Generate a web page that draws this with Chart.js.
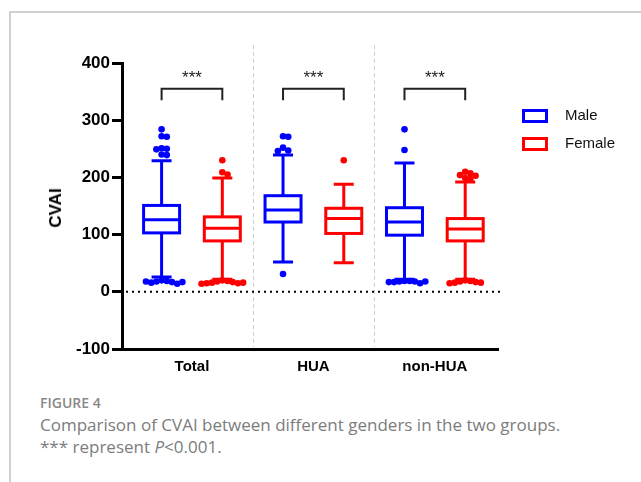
<!DOCTYPE html>
<html lang="en">
<head>
  <meta charset="UTF-8" />
  <title>CVAI by gender</title>
  <style>
    body { margin: 0; background: #fff; font-family: 'Liberation Sans', Arial, sans-serif; }
    .frame {
      position: absolute; left: 9px; top: 11px; width: 640px; height: 480px;
      border-left: 2px solid #d0d0d0; border-top: 2px solid #d0d0d0;
    }
    .chart-box { position: absolute; left: 0; top: 0; width: 641px; height: 390px; }
    .ytitle {
      position: absolute; left: 56px; top: 208px;
      transform: translate(-50%, -50%) rotate(-90deg);
      font-weight: 700; font-size: 17px; color: #000;
    }
    .legend { position: absolute; left: 522px; top: 106px; font-size: 15px; color: #111; }
    .legend div { position: relative; height: 28px; }
    .legend span.sw { position: absolute; left: 0; top: 3px; width: 20px; height: 8px; border: 3px solid; }
    .legend span.tx { position: absolute; left: 43px; top: 0px; line-height: 18px; }
    .caption { position: absolute; left: 40px; top: 394px; font-family: 'Open Sans', sans-serif; color: #7c7c7c; }
    .caption .fig { font-size: 14px; font-weight: 600; color: #888; line-height: 18px; }
    .caption .txt { font-size: 17px; line-height: 22px; margin-top: 2px; }
  </style>
</head>
<body>
  <div class="frame"></div>
  <div class="chart-box"><canvas id="cvaiChart"></canvas></div>
  <div class="ytitle">CVAI</div>
  <div class="legend">
    <div><span class="sw" style="border-color:#0000ff"></span><span class="tx">Male</span></div>
    <div><span class="sw" style="border-color:#ff0000"></span><span class="tx">Female</span></div>
  </div>
  <div class="caption">
    <div class="fig">FIGURE 4</div>
    <div class="txt">Comparison of CVAI between different genders in the two groups.<br>*** represent <i>P</i>&lt;0.001.</div>
  </div>

  <script src="https://cdn.jsdelivr.net/npm/chart.js"></script>
  <script>
    const groups = ['Total', 'HUA', 'non-HUA'];
    const yTicks = [-100, 0, 100, 200, 300, 400];

    // box stats per group: [lower whisker, Q1, median, Q3, upper whisker]
    const maleBox = [
      [26, 103, 126, 151, 229],
      [52, 122, 143, 168, 239],
      [22, 99, 122, 147, 225]
    ];
    const femaleBox = [
      [22, 89, 111, 131, 199],
      [51, 102, 128, 146, 188],
      [22, 89, 110, 128, 192]
    ];
    const maleOutliers = [
      [284, 272, 271, 251, 250, 249, 240, 239, 20, 19, 18, 17, 16, 14, 18, 17],
      [272, 271, 252, 247, 246, 31],
      [284, 248, 19, 19, 18, 18, 17, 15, 17, 18]
    ];
    const femaleOutliers = [
      [230, 209, 205, 20, 19, 18, 17, 16, 15, 15, 16, 14],
      [230],
      [210, 207, 204, 203, 199, 197, 20, 19, 18, 17, 16, 16, 15]
    ];
    const sigLabels = ['***', '***', '***'];
    const bracketTop = 355, bracketEnd = 335, starLevel = 378;

    const MALE = '#0000ff', FEMALE = '#ff0000';
    const OFFSET = 0.25;

    function drawBox(ctx, xs, ys, cx, stats, color) {
      const [lo, q1, med, q3, hi] = stats;
      const half = 18, cap = 10;
      const x = xs.getPixelForValue(cx);
      ctx.strokeStyle = color;
      ctx.lineWidth = 3;
      ctx.beginPath();
      ctx.moveTo(x, ys.getPixelForValue(q3)); ctx.lineTo(x, ys.getPixelForValue(hi));
      ctx.moveTo(x, ys.getPixelForValue(q1)); ctx.lineTo(x, ys.getPixelForValue(lo));
      ctx.moveTo(x - cap, ys.getPixelForValue(hi)); ctx.lineTo(x + cap, ys.getPixelForValue(hi));
      ctx.moveTo(x - cap, ys.getPixelForValue(lo)); ctx.lineTo(x + cap, ys.getPixelForValue(lo));
      ctx.stroke();
      const top = ys.getPixelForValue(q3), bot = ys.getPixelForValue(q1);
      ctx.fillStyle = '#fff';
      ctx.fillRect(x - half, top, half * 2, bot - top);
      ctx.strokeRect(x - half, top, half * 2, bot - top);
      ctx.beginPath();
      ctx.moveTo(x - half, ys.getPixelForValue(med)); ctx.lineTo(x + half, ys.getPixelForValue(med));
      ctx.stroke();
    }

    // loose beeswarm so equal values sit side by side, allowing some overlap
    function drawOutliers(ctx, xs, ys, cx, values, color) {
      const r = 3.3, step = 5.2, minGap = 5;
      const x0 = xs.getPixelForValue(cx);
      const placed = [];
      ctx.fillStyle = color;
      values.forEach(v => {
        const y = ys.getPixelForValue(v);
        let k = 0, px = x0;
        while (k < 40) {
          const off = k === 0 ? 0 : Math.ceil(k / 2) * step * (k % 2 ? 1 : -1);
          px = x0 + off;
          if (!placed.some(p => Math.hypot(p[0] - px, p[1] - y) < minGap)) break;
          k++;
        }
        placed.push([px, y]);
        ctx.beginPath();
        ctx.arc(px, y, r, 0, Math.PI * 2);
        ctx.fill();
      });
    }

    const boxPlugin = {
      id: 'boxPlugin',
      beforeDatasetsDraw(chart) {
        const { ctx, chartArea, scales: { x, y } } = chart;
        ctx.save();
        // group separators
        ctx.strokeStyle = '#cfcfcf';
        ctx.lineWidth = 1;
        ctx.setLineDash([4, 3]);
        [0.5, 1.5].forEach(v => {
          const px = Math.round(x.getPixelForValue(v)) + 0.5;
          ctx.beginPath();
          ctx.moveTo(px, 45);
          ctx.lineTo(px, chartArea.bottom - 2);
          ctx.stroke();
        });
        // zero reference line
        ctx.strokeStyle = '#000';
        ctx.lineWidth = 2;
        ctx.setLineDash([2, 4]);
        const y0 = y.getPixelForValue(0);
        ctx.beginPath();
        ctx.moveTo(chartArea.left + 4, y0);
        ctx.lineTo(chartArea.right + 2, y0);
        ctx.stroke();
        ctx.setLineDash([]);

        groups.forEach((g, i) => {
          drawBox(ctx, x, y, i - OFFSET, maleBox[i], MALE);
          drawBox(ctx, x, y, i + OFFSET, femaleBox[i], FEMALE);
          drawOutliers(ctx, x, y, i - OFFSET, maleOutliers[i], MALE);
          drawOutliers(ctx, x, y, i + OFFSET, femaleOutliers[i], FEMALE);

          // significance bracket
          const xl = x.getPixelForValue(i - OFFSET), xr = x.getPixelForValue(i + OFFSET);
          ctx.strokeStyle = '#222';
          ctx.lineWidth = 2;
          ctx.beginPath();
          ctx.moveTo(xl, y.getPixelForValue(bracketEnd));
          ctx.lineTo(xl, y.getPixelForValue(bracketTop));
          ctx.lineTo(xr, y.getPixelForValue(bracketTop));
          ctx.lineTo(xr, y.getPixelForValue(bracketEnd));
          ctx.stroke();
          ctx.fillStyle = '#222';
          ctx.font = '17px "Liberation Sans", Arial, sans-serif';
          ctx.textAlign = 'center';
          ctx.textBaseline = 'middle';
          ctx.fillText(sigLabels[i], (xl + xr) / 2, y.getPixelForValue(starLevel) + 3);
        });
        ctx.restore();
      }
    };

    const chart = new Chart(document.getElementById('cvaiChart'), {
      type: 'scatter',
      data: { datasets: [{ data: [] }] },
      options: {
        responsive: true,
        maintainAspectRatio: false,
        animation: false,
        layout: { padding: { left: 0, top: 63, right: 143, bottom: 0 } },
        plugins: { legend: { display: false }, tooltip: { enabled: false } },
        scales: {
          x: {
            type: 'linear',
            min: -0.576,
            max: 2.52,
            afterBuildTicks: s => { s.ticks = groups.map((g, i) => ({ value: i })); },
            afterFit: s => { s.height = 41; },
            ticks: {
              autoSkip: false,
              maxRotation: 0,
              padding: 9,
              color: '#000',
              font: { family: '"Liberation Sans", Arial, sans-serif', size: 15, weight: 'bold' },
              callback: v => groups[v]
            },
            grid: { display: false, drawTicks: false },
            border: { display: true, color: '#000', width: 3 }
          },
          y: {
            min: -100,
            max: 400,
            afterBuildTicks: s => { s.ticks = yTicks.map(v => ({ value: v })); },
            afterFit: s => { s.width = 122; },
            ticks: {
              padding: 2,
              color: '#000',
              font: { family: '"Liberation Sans", Arial, sans-serif', size: 17, weight: 'bold' }
            },
            grid: { drawOnChartArea: false, color: '#000', lineWidth: 3, tickLength: 10 },
            border: { display: true, color: '#000', width: 3 }
          }
        }
      },
      plugins: [boxPlugin]
    });
  </script>
</body>
</html>
